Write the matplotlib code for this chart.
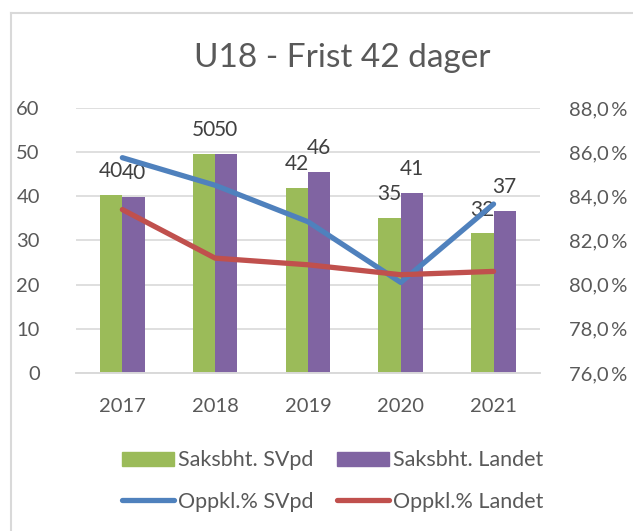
import matplotlib
matplotlib.use("Agg")
import matplotlib.pyplot as plt
from matplotlib.ticker import FuncFormatter
from matplotlib.lines import Line2D
import numpy as np

years = ["2017", "2018", "2019", "2020", "2021"]
saksbht_svpd = [40.4, 49.6, 41.9, 35.2, 31.6]
saksbht_landet = [39.9, 49.6, 45.5, 40.8, 36.7]
oppkl_svpd = [85.75, 84.5, 82.85, 80.1, 83.65]
oppkl_landet = [83.4, 81.2, 80.9, 80.45, 80.6]

GREEN = "#9BBB59"
PURPLE = "#8064A2"
BLUE = "#4F81BD"
RED = "#C0504D"
TXT = "#595959"
GRID = "#D9D9D9"

plt.rcParams["font.family"] = ["Lato", "DejaVu Sans"]

fig = plt.figure(figsize=(6.33, 5.31), dpi=100)
ax = fig.add_axes([0.120, 0.2976, 0.733, 0.4990])
ax2 = ax.twinx()

x = np.arange(len(years))
w = 0.24
b1 = ax.bar(x - w / 2, saksbht_svpd, w, color=GREEN, zorder=2)
b2 = ax.bar(x + w / 2, saksbht_landet, w, color=PURPLE, zorder=2)
for bars, vals in ((b1, saksbht_svpd), (b2, saksbht_landet)):
    for r, v in zip(bars, vals):
        ax.annotate(f"{v:.0f}", (r.get_x() + r.get_width() / 2, v),
                    xytext=(0, 17), textcoords="offset points",
                    ha="center", va="center", fontsize=15, color="#404040")

ax2.plot(x, oppkl_svpd, color=BLUE, lw=3.8, solid_capstyle="round", zorder=3)
ax2.plot(x, oppkl_landet, color=RED, lw=3.8, solid_capstyle="round", zorder=3)

ax.set_xlim(-0.5, len(years) - 0.5)
ax.set_ylim(0, 60)
ax.set_yticks(range(0, 61, 10))
ax2.set_ylim(76, 88)
ax2.set_yticks(np.arange(76, 88.1, 2))
ax2.yaxis.set_major_formatter(FuncFormatter(lambda v, p: f"{v:.1f}".replace(".", ",") + "\u2009%"))
ax.set_xticks(x)
ax.set_xticklabels(years)

ax.grid(axis="y", color=GRID, lw=1.2, zorder=0)
ax.set_axisbelow(True)
for a in (ax, ax2):
    for s in ("top", "left", "right"):
        a.spines[s].set_visible(False)
    a.spines["bottom"].set_color(GRID)
    a.spines["bottom"].set_linewidth(1.2)
    a.tick_params(length=0, labelsize=14.5, labelcolor=TXT)
ax.tick_params(axis="y", pad=26)
ax2.tick_params(axis="y", pad=21)
ax.tick_params(axis="x", pad=18)
ax2.set_zorder(ax.get_zorder() + 1)
ax2.patch.set_visible(False)

fig.text(0.54, 0.89, "U18 - Frist 42 dager", ha="center", va="center",
         fontsize=24, color=TXT)

handles = [
    plt.Rectangle((0, 0), 1, 1, color=GREEN),
    Line2D([], [], color=BLUE, lw=3.8, solid_capstyle="round"),
    plt.Rectangle((0, 0), 1, 1, color=PURPLE),
    Line2D([], [], color=RED, lw=3.8, solid_capstyle="round"),
]
labels = ["Saksbht. SVpd", "Oppkl.% SVpd", "Saksbht. Landet", "Oppkl.% Landet"]
leg = fig.legend(handles, labels, ncol=2, loc="center", bbox_to_anchor=(0.525, 0.094),
                 frameon=False, fontsize=15.5, labelcolor=TXT, handlelength=2.45,
                 handleheight=0.65, handletextpad=0.15, columnspacing=1.1, labelspacing=1.0)

# chart border
fig.add_artist(Line2D([0.018, 0.018], [0, 0.976], color=GRID, lw=1.5, transform=fig.transFigure))
fig.add_artist(Line2D([0.018, 1.0], [0.976, 0.976], color=GRID, lw=1.5, transform=fig.transFigure))

fig.savefig("out.png", dpi=100)
